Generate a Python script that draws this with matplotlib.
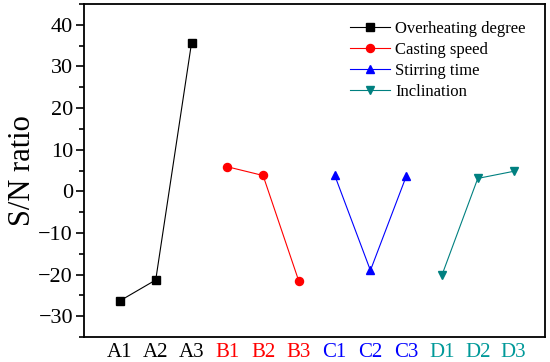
import numpy as np
import matplotlib
matplotlib.use("Agg")
import matplotlib.pyplot as plt
from matplotlib.ticker import MultipleLocator

plt.rcParams["font.family"] = ["Liberation Serif", "DejaVu Serif"]

# factor levels and S/N ratios
labels_a = ["A1", "A2", "A3"]
labels_b = ["B1", "B2", "B3"]
labels_c = ["C1", "C2", "C3"]
labels_d = ["D1", "D2", "D3"]
sn_a = [-26.3, -21.3, 35.6]
sn_b = [5.9, 3.8, -21.6]
sn_c = [3.9, -19.0, 3.6]
sn_d = [-20.1, 3.1, 4.8]

series = [
    ("Overheating degree", labels_a, sn_a, "black", "s", 5.3),
    ("Casting speed", labels_b, sn_b, "#ff0000", "o", 5.8),
    ("Stirring time", labels_c, sn_c, "#0000ff", "^", 6.0),
    ("Inclination", labels_d, sn_d, "#008080", "v", 6.0),
]
tick_colors = ["black", "#ff0000", "#0000ff", "#009999"]

fig = plt.figure(figsize=(5.5, 3.62), dpi=100)
ax = fig.add_axes([0.153, 0.069, 0.838, 0.92])

all_labels = []
for i, (name, labs, vals, col, mk, ms) in enumerate(series):
    x = np.arange(len(labs)) + 1 + 3 * i
    ax.plot(x, vals, color=col, lw=0.8, marker=mk, ms=ms,
            mec=col, mfc=col, label=name)
    all_labels += labs

ax.set_xlim(0, 12.88)
ax.set_ylim(-35, 45)
ax.set_xticks(np.arange(1, 13))
ax.set_xticklabels(all_labels, fontsize=15)
for k, t in enumerate(ax.get_xticklabels()):
    t.set_color(tick_colors[k // 3])
ax.tick_params(axis="x", length=0, pad=4)

ax.yaxis.set_major_locator(MultipleLocator(10))
ax.yaxis.set_minor_locator(MultipleLocator(5))
ax.tick_params(axis="y", which="major", direction="out", length=6, width=1.2,
               labelsize=16, pad=2)
ax.tick_params(axis="y", which="minor", direction="out", length=3.5, width=1.2)
ax.set_yticklabels([f"{int(v)}".replace("-", "\u2212") for v in ax.get_yticks()])
ax.set_ylabel("S/N ratio", fontsize=22, labelpad=1)

for s in ax.spines.values():
    s.set_linewidth(1.3)

ax.legend(loc="upper right", frameon=False, fontsize=12,
          handlelength=2.4, handletextpad=0.3, labelspacing=0.3,
          bbox_to_anchor=(0.99, 0.995))

fig.savefig("out.png", dpi=100)
